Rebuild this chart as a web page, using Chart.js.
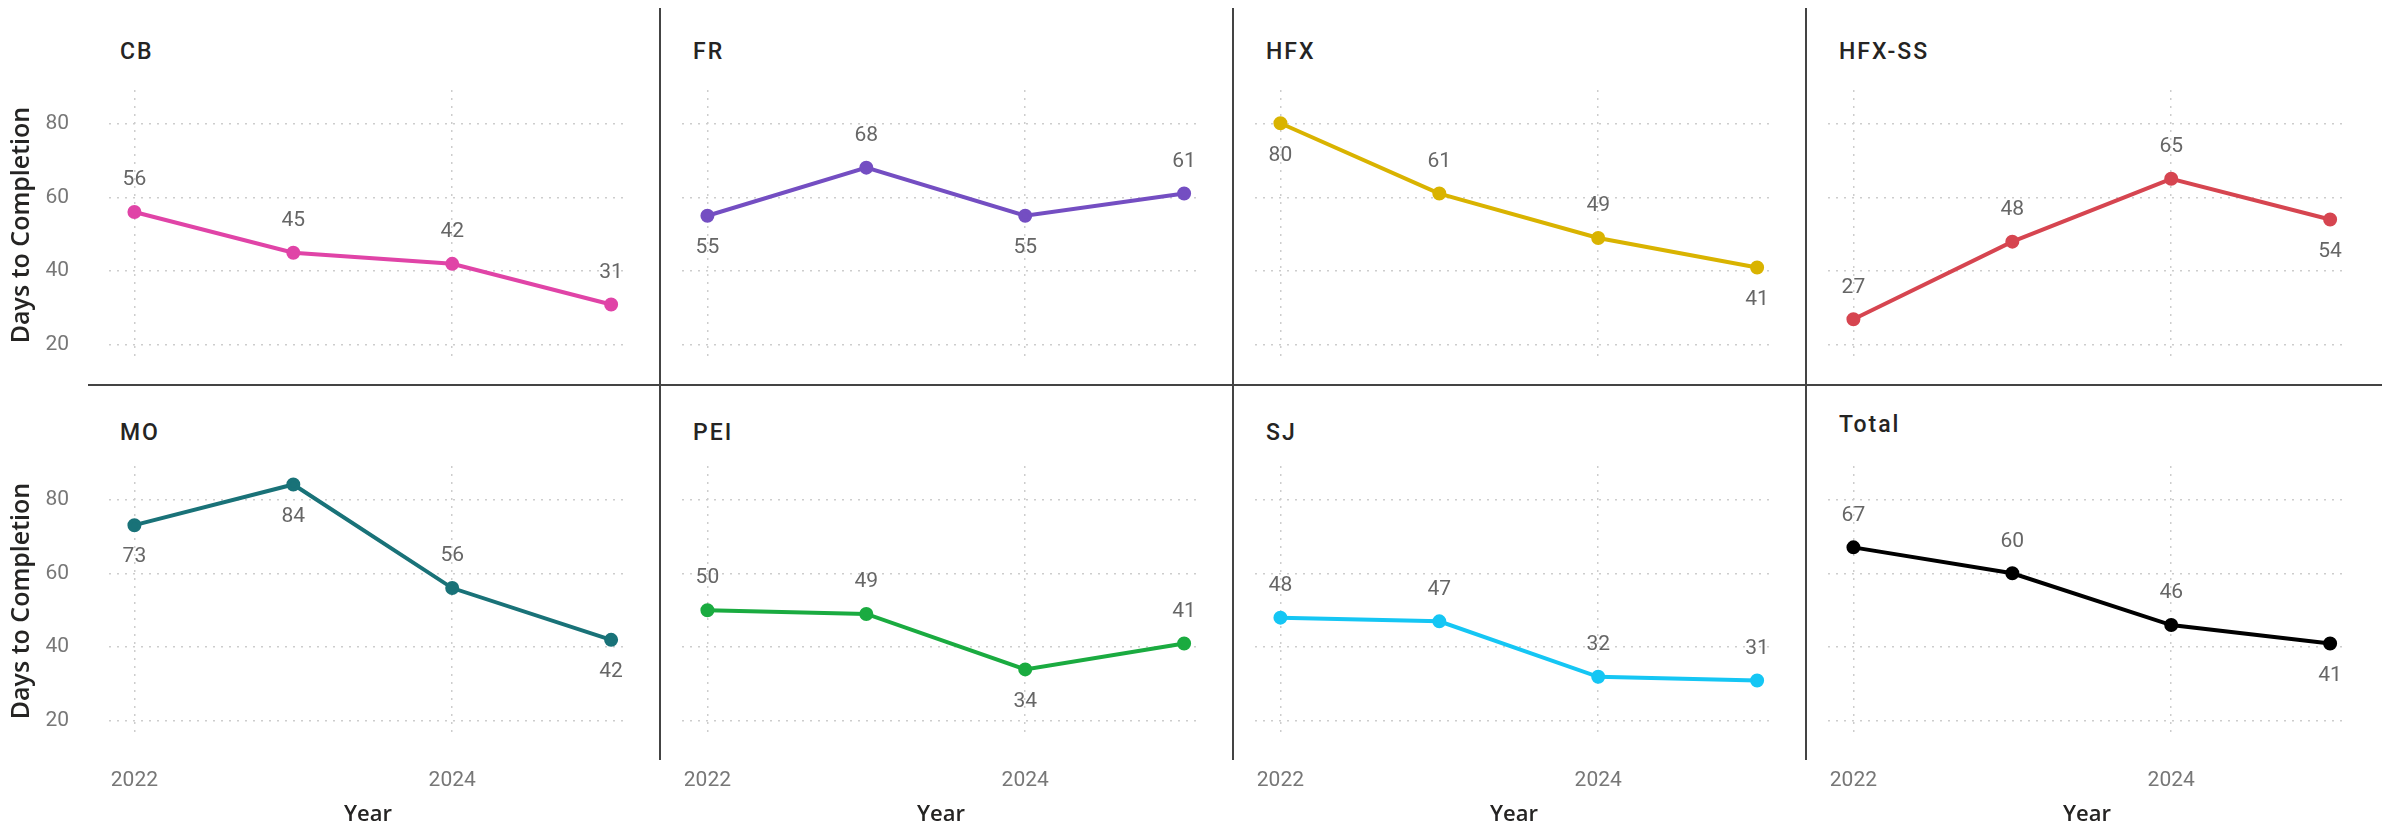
<!DOCTYPE html>
<html>
<head>
<meta charset="utf-8">
<script src="https://cdn.jsdelivr.net/npm/chart.js@4.4.1/dist/chart.umd.min.js"></script>
<style>
  html, body { margin: 0; width: 2394px; height: 830px; overflow: hidden; background: #fff; }
  canvas { position: absolute; }
  .title { position: absolute; font: 500 23px Roboto, sans-serif; letter-spacing: 2px; color: #252423; line-height: 1; white-space: nowrap; }
  .sep { position: absolute; background: #444; }
</style>
</head>
<body>
<script>
// data
const YEARS = [2022, 2023, 2024, 2025];
const PANELS = ["CB", "FR", "HFX", "HFX-SS", "MO", "PEI", "SJ", "Total"];
const CB = [56, 45, 42, 31];
const FR = [55, 68, 55, 61];
const HFX = [80, 61, 49, 41];
const HFX_SS = [27, 48, 65, 54];
const MO = [73, 84, 56, 42];
const PEI = [50, 49, 34, 41];
const SJ = [48, 47, 32, 31];
const TOTAL = [67, 60, 46, 41];
const Y_TICKS = [20, 40, 60, 80];
const X_TICKS = [2022, 2024];

const SERIES = [CB, FR, HFX, HFX_SS, MO, PEI, SJ, TOTAL];
const COLORS = ["#E044A7", "#744EC2", "#D9B300", "#D64550", "#197278", "#1AAB40", "#15C6F4", "#000000"];
// label above (a) or below (b) each point
const PLACE = [
  ["a", "a", "a", "a"],
  ["b", "a", "b", "a"],
  ["b", "a", "a", "b"],
  ["a", "a", "a", "b"],
  ["b", "b", "a", "b"],
  ["a", "a", "b", "a"],
  ["a", "a", "a", "a"],
  ["a", "a", "a", "b"],
];

const PLOT_W = 518, PLOT_H = 270, COL_STEP = 573, PAD = 16;

// draws the value next to every point
const valueLabels = {
  id: "valueLabels",
  afterDatasetsDraw(chart, args, opts) {
    const ctx = chart.ctx;
    const meta = chart.getDatasetMeta(0);
    const ds = chart.data.datasets[0];
    ctx.save();
    ctx.font = "21px Roboto, sans-serif";
    ctx.fillStyle = "#666666";
    ctx.textAlign = "center";
    ctx.textBaseline = "middle";
    meta.data.forEach((pt, i) => {
      const dy = opts.place[i] === "b" ? 32 : -32;
      ctx.fillText(String(ds.data[i].y), pt.x, pt.y + dy);
    });
    ctx.restore();
  },
};

function addDiv(cls, style, text) {
  const d = document.createElement("div");
  d.className = cls;
  Object.assign(d.style, style);
  if (text) d.textContent = text;
  document.body.appendChild(d);
}

PANELS.forEach((name, i) => {
  const row = Math.floor(i / 4), col = i % 4;
  const plotLeft = 109 + COL_STEP * col;
  const plotTop = row ? 466 : 90;
  const yW = col ? 0 : 109;
  const padL = col ? 20 : 0;
  const xH = row ? 90 : 0;
  const padB = row ? 0 : PAD;

  const canvas = document.createElement("canvas");
  const w = padL + yW + PLOT_W + 20;
  const h = PAD + PLOT_H + xH + padB;
  canvas.width = w; canvas.height = h;
  canvas.style.left = (plotLeft - yW - padL) + "px";
  canvas.style.top = (plotTop - PAD) + "px";
  canvas.style.width = w + "px"; canvas.style.height = h + "px";
  document.body.appendChild(canvas);

  const grid = (len) => ({
    color: "#cdcdcd",
    lineWidth: 1.5,
    borderDash: [2, 6],
    drawTicks: true,
    tickLength: len,
    tickColor: "rgba(0,0,0,0)",
  });

  new Chart(canvas.getContext("2d"), {
    type: "line",
    data: {
      datasets: [{
        data: YEARS.map((x, k) => ({ x, y: SERIES[i][k] })),
        borderColor: COLORS[i],
        backgroundColor: COLORS[i],
        borderWidth: 4,
        pointRadius: 5,
        pointHoverRadius: 5,
        tension: 0,
        clip: false,
      }],
    },
    options: {
      responsive: false,
      animation: false,
      devicePixelRatio: 1,
      layout: { padding: { left: padL, right: 20, top: PAD, bottom: padB } },
      plugins: {
        legend: { display: false },
        tooltip: { enabled: false },
        valueLabels: { place: PLACE[i] },
      },
      scales: {
        x: {
          type: "linear",
          min: 2021.84,
          max: 2025.1,
          grid: grid(30),
          border: { display: false, dash: [2, 6] },
          afterBuildTicks: (s) => { s.ticks = X_TICKS.map((v) => ({ value: v })); },
          afterFit: (s) => { s.height = xH; },
          ticks: {
            display: row === 1,
            padding: 2,
            maxRotation: 0,
            color: "#777777",
            font: { family: "Roboto, sans-serif", size: 21 },
            callback: (v) => String(v),
          },
          title: {
            display: row === 1,
            text: "Year",
            color: "#252423",
            padding: 0,
            font: { family: "'Open Sans', sans-serif", size: 22, weight: "600", lineHeight: 1 },
          },
        },
        y: {
          min: 16,
          max: 89,
          grid: grid(40),
          border: { display: false, dash: [2, 6] },
          afterBuildTicks: (s) => { s.ticks = Y_TICKS.map((v) => ({ value: v })); },
          afterFit: (s) => { s.width = yW; },
          ticks: {
            display: col === 0,
            padding: 0,
            color: "#777777",
            font: { family: "Roboto, sans-serif", size: 21 },
          },
          title: {
            display: col === 0,
            text: "Days to Completion",
            color: "#252423",
            padding: { top: 7, bottom: 0 },
            font: { family: "'Open Sans', sans-serif", size: 25, weight: "600" },
          },
        },
      },
    },
    plugins: [valueLabels],
  });

  addDiv("title", { left: (plotLeft + 11) + "px", top: (name === "Total" ? 413 : row ? 421 : 40) + "px" }, name);
});

// panel separators
[660, 1233, 1806].forEach((x) => addDiv("sep", { left: (x - 1) + "px", top: "8px", width: "2px", height: "752px" }));
addDiv("sep", { left: "88px", top: "384px", width: "2294px", height: "2px" });
</script>
</body>
</html>
